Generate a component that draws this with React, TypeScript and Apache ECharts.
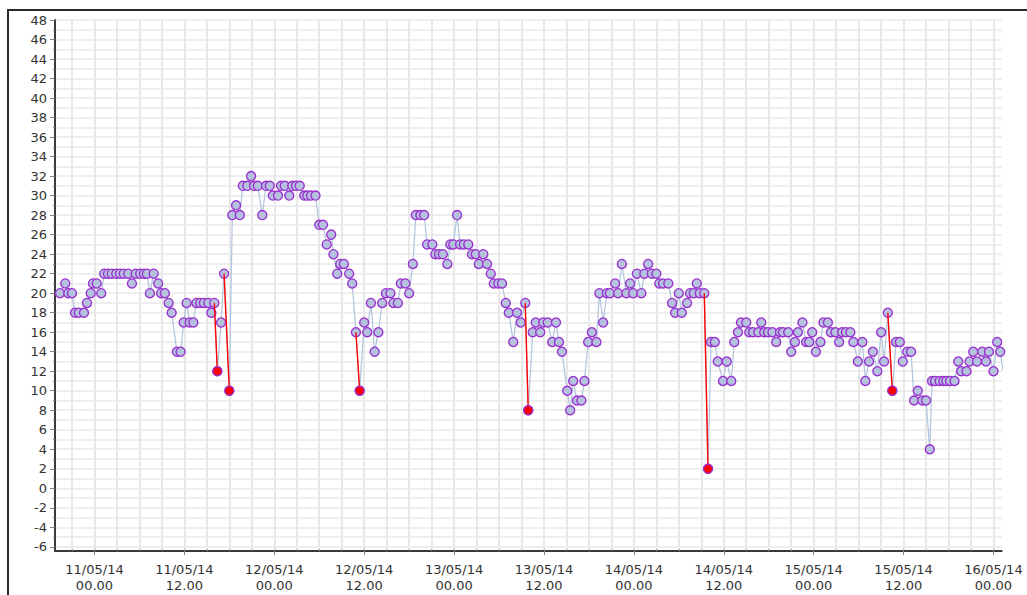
import React, { useEffect, useRef } from "react";
import * as echarts from "echarts";

// Hours since 11/05/14 00.00
const hours = [
  -4.6, -3.9, -3.5, -3.0, -2.6, -2.1, -1.4, -1.0, -0.5, -0.2, 0.3, 0.9, 1.3, 1.8, 2.3, 2.9, 3.4, 3.9, 4.5, 5.0,
  5.5, 6.1, 6.6, 7.0, 7.4, 7.9, 8.5, 8.9, 9.4, 9.9, 10.3, 11.0, 11.5, 11.9, 12.3, 12.7, 13.2, 13.6, 14.1, 14.6,
  15.2, 15.6, 16.0, 16.4, 16.9, 17.3, 18.0, 18.4, 18.9, 19.4, 19.8, 20.4, 20.9, 21.3, 21.8, 22.4, 22.9, 23.4, 23.8, 24.5,
  24.9, 25.4, 26.0, 26.4, 26.9, 27.4, 28.0, 28.4, 28.9, 29.5, 30.0, 30.5, 31.0, 31.6, 31.9, 32.4, 32.8, 33.3, 34.0, 34.4,
  34.9, 35.4, 36.0, 36.4, 36.9, 37.4, 37.9, 38.4, 38.9, 39.5, 39.9, 40.5, 40.9, 41.5, 42.0, 42.5, 42.9, 43.5, 44.0, 44.4,
  45.1, 45.5, 46.0, 46.5, 47.1, 47.5, 47.9, 48.4, 48.8, 49.3, 49.9, 50.4, 50.9, 51.3, 51.9, 52.4, 52.9, 53.3, 53.9, 54.4,
  54.9, 55.3, 55.9, 56.4, 56.9, 57.5, 57.9, 58.5, 58.9, 59.5, 59.9, 60.5, 61.1, 61.6, 62.0, 62.4, 63.1, 63.5, 63.9, 64.4,
  65.0, 65.4, 65.9, 66.4, 67.0, 67.4, 67.9, 68.4, 68.8, 69.5, 69.9, 70.4, 71.0, 71.5, 71.9, 72.4, 73.0, 73.4, 73.9, 74.4,
  75.0, 75.4, 75.9, 76.6, 77.1, 77.5, 78.0, 78.4, 79.1, 79.5, 80.0, 80.4, 80.8, 81.4, 81.9, 82.3, 82.8, 83.2, 83.9, 84.4,
  85.0, 85.4, 85.9, 86.3, 87.0, 87.4, 87.9, 88.6, 89.0, 89.4, 89.9, 90.5, 91.0, 91.5, 91.9, 92.6, 93.0, 93.5, 93.9, 94.5,
  95.0, 95.4, 95.8, 96.3, 96.9, 97.3, 97.9, 98.3, 98.9, 99.4, 99.8, 100.3, 100.9, 101.3, 101.9, 102.5, 102.9, 103.4, 103.9, 104.5,
  105.0, 105.4, 105.9, 106.5, 107.0, 107.5, 107.9, 108.5, 109.0, 109.4, 109.9, 110.5, 111.0, 111.5, 111.8, 112.2, 112.8, 113.3, 113.7, 114.2,
  114.8, 115.3, 115.7, 116.4, 116.8, 117.3, 117.8, 118.5, 119.0, 119.4, 120.0, 120.5, 120.9, 121.3,
];

const values = [
  20, 21, 20, 20, 18, 18, 18, 19, 20, 21, 21, 20, 22, 22, 22, 22, 22, 22, 22, 21,
  22, 22, 22, 22, 20, 22, 21, 20, 20, 19, 18, 14, 14, 17, 19, 17, 17, 19, 19, 19,
  19, 18, 19, 12, 17, 22, 10, 28, 29, 28, 31, 31, 32, 31, 31, 28, 31, 31, 30, 30,
  31, 31, 30, 31, 31, 31, 30, 30, 30, 30, 27, 27, 25, 26, 24, 22, 23, 23, 22, 21,
  16, 10, 17, 16, 19, 14, 16, 19, 20, 20, 19, 19, 21, 21, 20, 23, 28, 28, 28, 25,
  25, 24, 24, 24, 23, 25, 25, 28, 25, 25, 25, 24, 24, 23, 24, 23, 22, 21, 21, 21,
  19, 18, 15, 18, 17, 19, 8, 16, 17, 16, 17, 17, 15, 17, 15, 14, 10, 8, 11, 9,
  9, 11, 15, 16, 15, 20, 17, 20, 20, 21, 20, 23, 20, 21, 20, 22, 20, 22, 23, 22,
  22, 21, 21, 21, 19, 18, 20, 18, 19, 20, 20, 21, 20, 20, 2, 15, 15, 13, 11, 13,
  11, 15, 16, 17, 17, 16, 16, 16, 17, 16, 16, 16, 15, 16, 16, 16, 14, 15, 16, 17,
  15, 15, 16, 14, 15, 17, 17, 16, 16, 15, 16, 16, 16, 15, 13, 15, 11, 13, 14, 12,
  16, 13, 18, 10, 15, 15, 13, 14, 14, 9, 10, 9, 9, 4, 11, 11, 11, 11, 11, 11,
  11, 13, 12, 12, 13, 14, 13, 14, 13, 14, 12, 15, 14, 12,
];

// Readings flagged in red (hours)
const alertHours = [16.4, 18.0, 35.4, 57.9, 81.9, 106.5];

// Axis ticks
const xLabelHours = [0, 12, 24, 36, 48, 60, 72, 84, 96, 108, 120];
const xGridHours = [
  -3, 0, 3, 6, 9, 12, 15, 18, 21, 24, 27, 30, 33, 36, 39, 42, 45, 48, 51, 54, 57, 60, 63, 66, 69, 72,
  75, 78, 81, 84, 87, 90, 93, 96, 99, 102, 105, 108, 111, 114, 117, 120,
];
const yLabels = [-6, -4, -2, 0, 2, 4, 6, 8, 10, 12, 14, 16, 18, 20, 22, 24, 26, 28, 30, 32, 34, 36, 38, 40, 42, 44, 46, 48];
const yGrid = [
  -6, -5, -4, -3, -2, -1, 0, 1, 2, 3, 4, 5, 6, 7, 8, 9, 10, 11, 12, 13, 14, 15, 16, 17, 18, 19, 20, 21,
  22, 23, 24, 25, 26, 27, 28, 29, 30, 31, 32, 33, 34, 35, 36, 37, 38, 39, 40, 41, 42, 43, 44, 45, 46, 47, 48,
];

const X_MIN = -5.27;
const X_MAX = 121.1;
const Y_MIN = -6.43;
const Y_MAX = 48;

const FONT = "DejaVu Sans";
const AXIS_COLOR = "#3a3a3a";
const GRID_COLOR = "#e8e8e8";

function formatHour(h: number): string {
  const day = 11 + Math.floor(h / 24);
  const hr = ((h % 24) + 24) % 24;
  const dd = day < 10 ? "0" + day : String(day);
  const hh = hr < 10 ? "0" + hr : String(hr);
  return dd + "/05/14\n" + hh + ".00";
}

export default function App() {
  const ref = useRef<HTMLDivElement | null>(null);

  useEffect(() => {
    if (!ref.current) return;
    const chart = echarts.init(ref.current, undefined, { renderer: "svg" });

    const points = hours.map((h, i) => [h, values[i]]);
    const alertIdx = alertHours.map((a) => hours.indexOf(a)).filter((i) => i > 0);
    const redLine: any[] = [];
    alertIdx.forEach((i) => {
      redLine.push([hours[i - 1], values[i - 1]]);
      redLine.push([hours[i], values[i]]);
      redLine.push([hours[i], "-"]);
    });
    const redPoints = alertIdx.map((i) => [hours[i], values[i]]);

    const option: any = {
      animation: false,
      backgroundColor: "#ffffff",
      grid: {
        left: 55,
        right: 25.3,
        top: 20,
        bottom: 44,
        containLabel: false,
        outerBoundsMode: "none",
      },
      xAxis: [
        {
          type: "value",
          min: X_MIN,
          max: X_MAX,
          position: "bottom",
          axisLine: { show: true, onZero: false, lineStyle: { color: AXIS_COLOR, width: 2 } },
          axisTick: { show: true, inside: true, length: 2, customValues: xGridHours, lineStyle: { color: "#9a9a9a" } },
          axisLabel: { show: false },
          splitLine: { show: true, lineStyle: { color: GRID_COLOR, width: 2 } },
        },
        {
          type: "value",
          min: X_MIN,
          max: X_MAX,
          position: "bottom",
          axisLine: { show: false, onZero: false },
          axisTick: { show: true, length: 4, customValues: xLabelHours, lineStyle: { color: "#808080", width: 1 } },
          axisLabel: {
            show: true,
            customValues: xLabelHours,
            formatter: (v: number) => formatHour(v),
            fontFamily: FONT,
            fontSize: 13,
            lineHeight: 16,
            color: "#333333",
            margin: 10,
          },
          splitLine: { show: false },
        },
      ],
      yAxis: [
        {
          type: "value",
          min: Y_MIN,
          max: Y_MAX,
          position: "left",
          axisLine: { show: true, onZero: false, lineStyle: { color: AXIS_COLOR, width: 2 } },
          axisTick: { show: true, length: 2, customValues: yGrid, lineStyle: { color: "#808080" } },
          axisLabel: { show: false },
          splitLine: { show: true, lineStyle: { color: GRID_COLOR, width: 1.5 } },
        },
        {
          type: "value",
          min: Y_MIN,
          max: Y_MAX,
          position: "left",
          axisLine: { show: false, onZero: false },
          axisTick: { show: true, length: 5, customValues: yLabels, lineStyle: { color: "#808080" } },
          axisLabel: {
            show: true,
            customValues: yLabels,
            fontFamily: FONT,
            fontSize: 13,
            color: "#333333",
            margin: 8,
          },
          splitLine: { show: false },
        },
      ],
      series: [
        {
          type: "line",
          xAxisIndex: 0,
          yAxisIndex: 0,
          data: points,
          silent: true,
          clip: true,
          symbol: "circle",
          symbolSize: 9,
          showSymbol: true,
          lineStyle: { color: "#b0c4de", width: 1.2 },
          itemStyle: { color: "#b4c2de", borderColor: "#9b30d0", borderWidth: 1.4 },
          z: 2,
        },
        {
          type: "line",
          xAxisIndex: 0,
          yAxisIndex: 0,
          data: redLine,
          silent: true,
          clip: true,
          showSymbol: false,
          connectNulls: false,
          lineStyle: { color: "#ff0000", width: 1.4 },
          z: 3,
        },
        {
          type: "scatter",
          xAxisIndex: 0,
          yAxisIndex: 0,
          data: redPoints,
          silent: true,
          symbol: "circle",
          symbolSize: 9,
          itemStyle: { color: "#ff0000", borderColor: "#9b30d0", borderWidth: 1.2, opacity: 1 },
          z: 4,
        },
      ],
    };

    chart.setOption(option);
    return () => {
      chart.dispose();
    };
  }, []);

  return (
    <div style={{ position: "fixed", left: 0, top: 0, width: 1027, height: 595, overflow: "hidden", background: "#fff" }}>
      <div ref={ref} style={{ position: "absolute", left: 0, top: 0, width: 1027, height: 595 }} />
      <div
        style={{
          position: "absolute",
          left: 7,
          top: 9,
          width: 1100,
          height: 700,
          borderLeft: "2px solid #2a2a2a",
          borderTop: "2px solid #2a2a2a",
          pointerEvents: "none",
        }}
      />
    </div>
  );
}
